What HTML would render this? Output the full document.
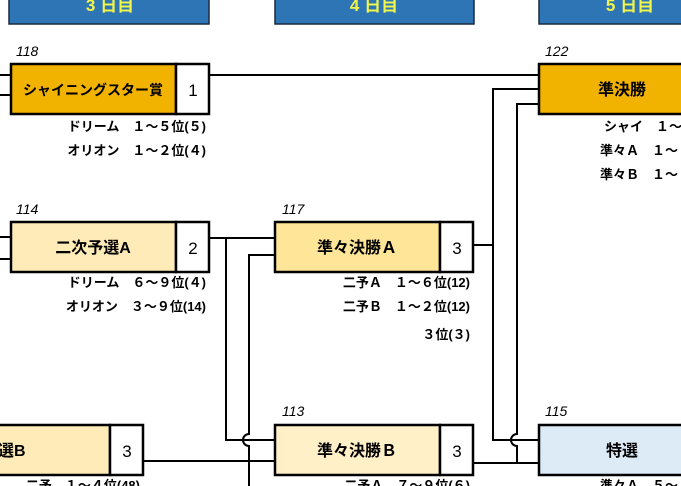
<!DOCTYPE html>
<html><head><meta charset="utf-8"><style>
html,body{margin:0;padding:0;background:#fff;}
svg{display:block;}
text{font-family:"Liberation Sans","Noto Sans CJK JP",sans-serif;}
.lbl{font-size:14px;font-style:italic;fill:#000;}
.nm{font-size:16px;font-weight:bold;fill:#000;}
.num{font-size:17px;fill:#000;}
.inf{font-size:13px;font-weight:bold;fill:#000;}
.hd{font-size:17px;font-weight:bold;fill:#F3F64A;}
</style></head><body>
<svg width="681" height="486" viewBox="0 0 681 486" xmlns="http://www.w3.org/2000/svg">
<rect x="9" y="-5" width="200" height="29" fill="#2E75B6" stroke="#1a2a40" stroke-width="1.5"/>
<rect x="275" y="-5" width="199" height="29" fill="#2E75B6" stroke="#1a2a40" stroke-width="1.5"/>
<rect x="539" y="-5" width="150" height="29" fill="#2E75B6" stroke="#1a2a40" stroke-width="1.5"/>
<text class="hd" x="110" y="11" text-anchor="middle">3 日目</text>
<text class="hd" x="374" y="11" text-anchor="middle">4 日目</text>
<text class="hd" x="630" y="11" text-anchor="middle">5 日目</text>

<g stroke="#000" stroke-width="2" fill="none">
<line x1="0" y1="75" x2="11" y2="75"/><line x1="0" y1="95" x2="11" y2="95"/>
<line x1="0" y1="237" x2="11" y2="237"/><line x1="0" y1="259" x2="11" y2="259"/>
<line x1="209" y1="75" x2="539" y2="75"/>
<line x1="209" y1="238" x2="275" y2="238"/>
<path d="M226 238 V440 H275"/>
<path d="M275 255 H249 V434 A6 6 0 0 0 249 446 V486"/>
<line x1="143" y1="461" x2="275" y2="461"/>
<path d="M473 245 H493"/>
<path d="M539 89 H493 V440 H539"/>
<path d="M539 104 H517 V434 A6 6 0 0 0 517 446 V463"/>
<line x1="473" y1="463" x2="539" y2="463"/>
</g>

<text class="lbl" x="16" y="56">118</text>
<rect x="11" y="64" width="165" height="50" fill="#F2B200" stroke="#000" stroke-width="2.5"/>
<rect x="176" y="64" width="33" height="50" fill="#fff" stroke="#000" stroke-width="2.5"/>
<text class="nm" x="93" y="95" text-anchor="middle" style="font-size:14px">シャイニングスター賞</text>
<text class="num" x="193" y="96" text-anchor="middle">1</text>
<text class="inf" x="206" y="131" text-anchor="end">ドリーム　１～５位(５)</text>
<text class="inf" x="206" y="155" text-anchor="end">オリオン　１～２位(４)</text>

<text class="lbl" x="16" y="214">114</text>
<rect x="11" y="222" width="165" height="50" fill="#FFEBB8" stroke="#000" stroke-width="2.5"/>
<rect x="176" y="222" width="33" height="50" fill="#fff" stroke="#000" stroke-width="2.5"/>
<text class="nm" x="93" y="253" text-anchor="middle">二次予選A</text>
<text class="num" x="193" y="254" text-anchor="middle">2</text>
<text class="inf" x="206" y="287" text-anchor="end">ドリーム　６～９位(４)</text>
<text class="inf" x="206" y="311" text-anchor="end">オリオン　３～９位(14)</text>

<text class="lbl" x="282" y="214">117</text>
<rect x="275" y="222" width="165" height="50" fill="#FFE597" stroke="#000" stroke-width="2.5"/>
<rect x="440" y="222" width="33" height="50" fill="#fff" stroke="#000" stroke-width="2.5"/>
<text class="nm" x="357" y="253" text-anchor="middle">準々決勝Ａ</text>
<text class="num" x="457" y="254" text-anchor="middle">3</text>
<text class="inf" x="470" y="287" text-anchor="end">二予Ａ　１～６位(12)</text>
<text class="inf" x="470" y="311" text-anchor="end">二予Ｂ　１～２位(12)</text>
<text class="inf" x="470" y="339" text-anchor="end">３位(３)</text>

<rect x="-60" y="425" width="170" height="50" fill="#FFEBB8" stroke="#000" stroke-width="2.5"/>
<rect x="110" y="425" width="33" height="50" fill="#fff" stroke="#000" stroke-width="2.5"/>
<text class="nm" x="-2" y="456">選B</text>
<text class="num" x="127" y="457" text-anchor="middle">3</text>
<text class="inf" x="140" y="490" text-anchor="end">二予　１～４位(48)</text>

<text class="lbl" x="282" y="416">113</text>
<rect x="275" y="425" width="165" height="50" fill="#FFF0C8" stroke="#000" stroke-width="2.5"/>
<rect x="440" y="425" width="33" height="50" fill="#fff" stroke="#000" stroke-width="2.5"/>
<text class="nm" x="357" y="456" text-anchor="middle">準々決勝Ｂ</text>
<text class="num" x="457" y="457" text-anchor="middle">3</text>
<text class="inf" x="470" y="490" text-anchor="end">二予Ａ　７～９位(６)</text>

<text class="lbl" x="545" y="56">122</text>
<rect x="539" y="64" width="160" height="50" fill="#F2B200" stroke="#000" stroke-width="2.5"/>
<text class="nm" x="622" y="95" text-anchor="middle">準決勝</text>
<text class="inf" x="604" y="131">シャイ　１～</text>
<text class="inf" x="600" y="155">準々Ａ　１～</text>
<text class="inf" x="600" y="179">準々Ｂ　１～</text>

<text class="lbl" x="545" y="416">115</text>
<rect x="539" y="425" width="160" height="50" fill="#DDEBF7" stroke="#000" stroke-width="2.5"/>
<text class="nm" x="622" y="456" text-anchor="middle">特選</text>
<text class="inf" x="600" y="490">準々Ａ　５～</text>
</svg>
</body></html>
